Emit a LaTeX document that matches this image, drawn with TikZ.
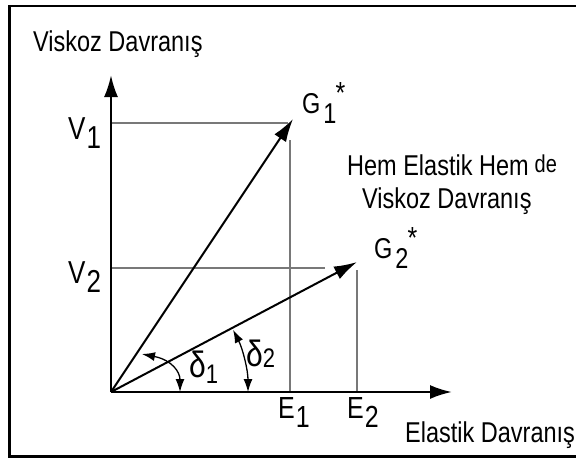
\documentclass[tikz,border=0pt]{standalone}
\usepackage{fontspec}
\usepackage{graphicx}
\setmainfont{Liberation Sans}
\usetikzlibrary{arrows.meta}
\definecolor{guidegray}{RGB}{120,120,120}

\newcommand{\tallt}[1]{\scalebox{1}[1.22]{#1}}
\newcommand{\sublbl}[2]{\tallt{#1\hspace{1pt}\raisebox{-8pt}{#2}}}
\newcommand{\gstar}[2]{\tallt{#1\hspace{3pt}\raisebox{-9pt}{#2}\hspace{-1pt}\raisebox{8pt}{\fontsize{25}{25}\selectfont *}}}

\begin{document}
\begin{tikzpicture}[x=1pt, y=-1pt,
    axis/.style={line width=2.4pt, -{Latex[length=22pt,width=14pt]}},
    vec/.style={line width=2pt, -{Latex[length=23pt,width=14pt]}},
    guide/.style={line width=1.5pt, color=guidegray},
    angarr/.style={line width=1.3pt, {Latex[length=13pt,width=9pt]}-{Latex[length=13pt,width=9pt]}},
    lbl/.style={inner sep=0pt, anchor=base west, font=\fontsize{23.5}{26}\selectfont},
    dlbl/.style={inner sep=0pt, anchor=base west, font=\fontsize{30}{32}\selectfont}
]
\useasboundingbox (0,0) rectangle (576,459);
\draw[line width=2.5pt] (600,6) -- (9.5,6) -- (9.5,456.5) -- (600,456.5);

\coordinate (O)    at (111,392);
\coordinate (ytip) at (111,75);
\coordinate (xtip) at (452,392);
\coordinate (g1)   at (293,119);
\coordinate (g2)   at (357,262);
\coordinate (v1)   at (111,123);
\coordinate (v1end) at (288,123);
\coordinate (e1top) at (290,140);
\coordinate (e1)   at (290,392);
\coordinate (v2)   at (111,268);
\coordinate (v2end) at (325,268);
\coordinate (e2top) at (357,270);
\coordinate (e2)   at (357,392);

\draw[guide] (v1) -- (v1end);
\draw[guide] (e1top) -- (e1);
\draw[guide] (v2) -- (v2end);
\draw[guide] (e2top) -- (e2);

\draw[axis] (O) -- (ytip);
\draw[axis] (O) -- (xtip);
\draw[vec] (O) -- (g1);
\draw[vec] (O) -- (g2);

\draw[angarr] (142,354) .. controls (172,360) and (180,372) .. (180,392);
\draw[angarr] ([shift={(-27:137)}]O) arc[start angle=-27, end angle=0, radius=137];

\node[lbl] (ylabel) at (33,51) {\tallt{Viskoz Davranış}};
\node[lbl] (xlabel) at (405,442) {\tallt{Elastik Davranış}};
\node[lbl] (both1) at (347,175) {\tallt{Hem Elastik Hem\hspace{6pt}\raisebox{2pt}{\fontsize{20}{20}\selectfont de}}};
\node[lbl] (both2) at (362,208) {\tallt{Viskoz Davranış}};

\node[lbl, font=\fontsize{26}{28}\selectfont] (v1lbl) at (68,139) {\sublbl{V}{1}};
\node[lbl, font=\fontsize{26}{28}\selectfont] (v2lbl) at (68,283) {\sublbl{V}{2}};
\node[lbl, font=\fontsize{25}{28}\selectfont] (e1lbl) at (278,418) {\sublbl{E}{1}};
\node[lbl, font=\fontsize{25}{28}\selectfont] (e2lbl) at (347,418) {\sublbl{E}{2}};
\node[lbl] (g1lbl) at (302,113) {\gstar{G}{1}};
\node[lbl] (g2lbl) at (374,258) {\gstar{G}{2}};

\node[dlbl] (d1lbl) at (189,377) {\tallt{δ}\raisebox{-6pt}{\fontsize{22}{22}\selectfont\tallt{1}}};
\node[dlbl] (d2lbl) at (246,366) {\tallt{δ}\raisebox{-1pt}{\fontsize{22}{22}\selectfont\tallt{2}}};
\end{tikzpicture}
\end{document}
